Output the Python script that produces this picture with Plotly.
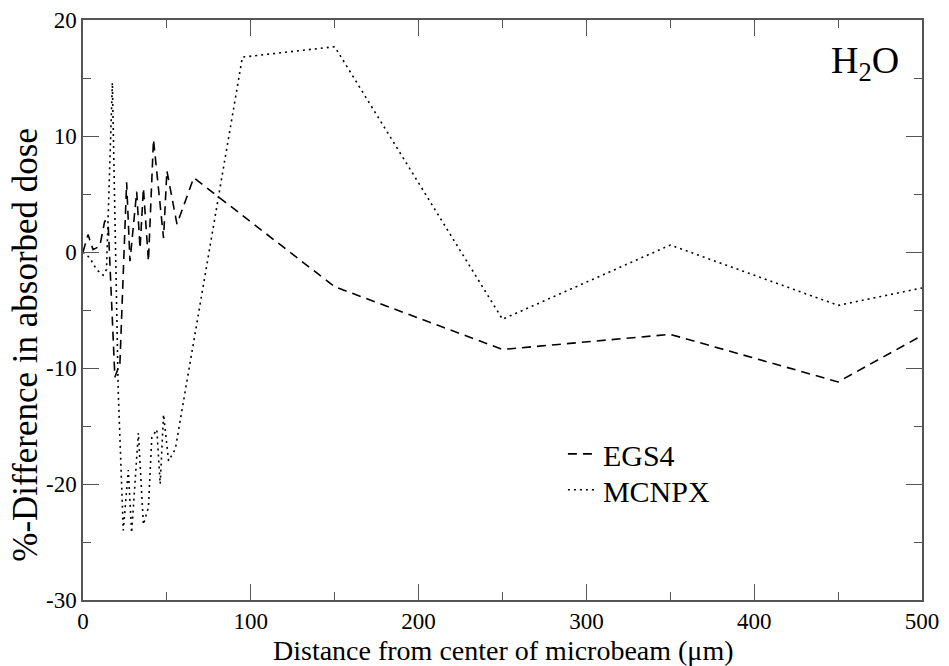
import plotly.graph_objects as go

# Distance from microbeam centre (um) and %-difference in absorbed dose
egs4_x = [0, 3, 6, 10, 13, 15, 19, 22, 26, 28, 32, 34, 36, 39, 42, 45, 48, 50, 56, 66,
          150, 250, 350, 450, 500]
egs4_y = [0, 1.5, 0.2, 0.5, 2.7, 2.4, -10.8, -9.6, 6.0, -0.8, 5.2, 0.3, 5.5, -0.8, 9.7,
          5.6, 1.2, 7.0, 2.4, 6.4, -3.0, -8.4, -7.1, -11.2, -7.2]

mcnpx_x = [0, 4, 8, 12, 14, 17.5, 21, 24, 27, 29, 33, 36, 39, 41, 44, 46, 48, 51, 55,
           95, 150, 250, 350, 450, 500]
mcnpx_y = [0, -0.5, -1.5, -2.0, -1.5, 14.6, -12.0, -24.0, -18.8, -24.2, -15.6, -23.5,
           -22.0, -16.0, -15.3, -20.0, -14.0, -18.0, -17.0, 16.8, 17.7, -5.8, 0.6,
           -4.6, -3.1]

x_ticks = [0, 100, 200, 300, 400, 500]
y_ticks = [-30, -20, -10, 0, 10, 20]
y_tick_labels = ["-30", "-20", "-10", "0", "10", "20"]

FONT = "Liberation Serif"
AXIS_COLOR = "#555555"

fig = go.Figure()
fig.add_trace(go.Scatter(
    x=egs4_x, y=egs4_y, mode="lines", name="EGS4", legend="legend",
    line=dict(color="black", width=1.6, dash="9px,6px"),
))
fig.add_trace(go.Scatter(
    x=mcnpx_x, y=mcnpx_y, mode="lines", name="MCNPX", legend="legend2",
    line=dict(color="black", width=1.6, dash="2px,4px"),
))

fig.add_annotation(
    x=0.975, y=0.925, xref="paper", yref="paper", xanchor="right", yanchor="middle",
    text="H<sub>2</sub>O", showarrow=False,
    font=dict(family=FONT, size=38, color="black"),
)

# axis titles as free text so they can sit where the layout needs them
fig.add_annotation(
    x=-0.068, y=0.44, xref="paper", yref="paper", xanchor="center", yanchor="middle",
    text="%-Difference in absorbed dose", textangle=-90, showarrow=False,
    font=dict(family=FONT, size=35, color="black"),
)
fig.add_annotation(
    x=0.5, y=-67 / 580, xref="paper", yref="paper", xanchor="center", yanchor="bottom",
    text="Distance from center of microbeam (μm)", showarrow=False,
    font=dict(family=FONT, size=28, color="black"), borderpad=0,
)

axis_common = dict(
    showline=True, linecolor=AXIS_COLOR, linewidth=1.5, mirror="ticks",
    ticks="inside", ticklen=16, tickwidth=1.2, tickcolor=AXIS_COLOR,
    showgrid=False, zeroline=False, automargin=False,
    tickfont=dict(family=FONT, size=23, color="black"),
)

fig.update_xaxes(
    range=[0, 500], tickvals=x_ticks, ticklabelstandoff=0,
    minor=dict(dtick=50, ticks="inside", ticklen=8, tickwidth=1.2, tickcolor=AXIS_COLOR),
    **axis_common,
)
fig.update_yaxes(
    range=[-30, 20], tickvals=y_ticks, ticktext=y_tick_labels,
    minor=dict(dtick=5, ticks="inside", ticklen=8, tickwidth=1.2, tickcolor=AXIS_COLOR),
    **axis_common,
)

legend_common = dict(
    xanchor="left", yanchor="middle",
    bgcolor="rgba(0,0,0,0)", borderwidth=0,
    font=dict(family=FONT, size=30, color="black"),
    itemwidth=30, tracegroupgap=0,
)

fig.update_layout(
    width=949, height=666,
    margin=dict(l=83, r=27, t=20, b=66),
    paper_bgcolor="white", plot_bgcolor="white",
    font=dict(family=FONT, color="black"),
    showlegend=True,
    legend=dict(x=0.572, y=0.252, **legend_common),
    legend2=dict(x=0.572, y=0.19, **legend_common),
)

fig.write_html("out.html")
